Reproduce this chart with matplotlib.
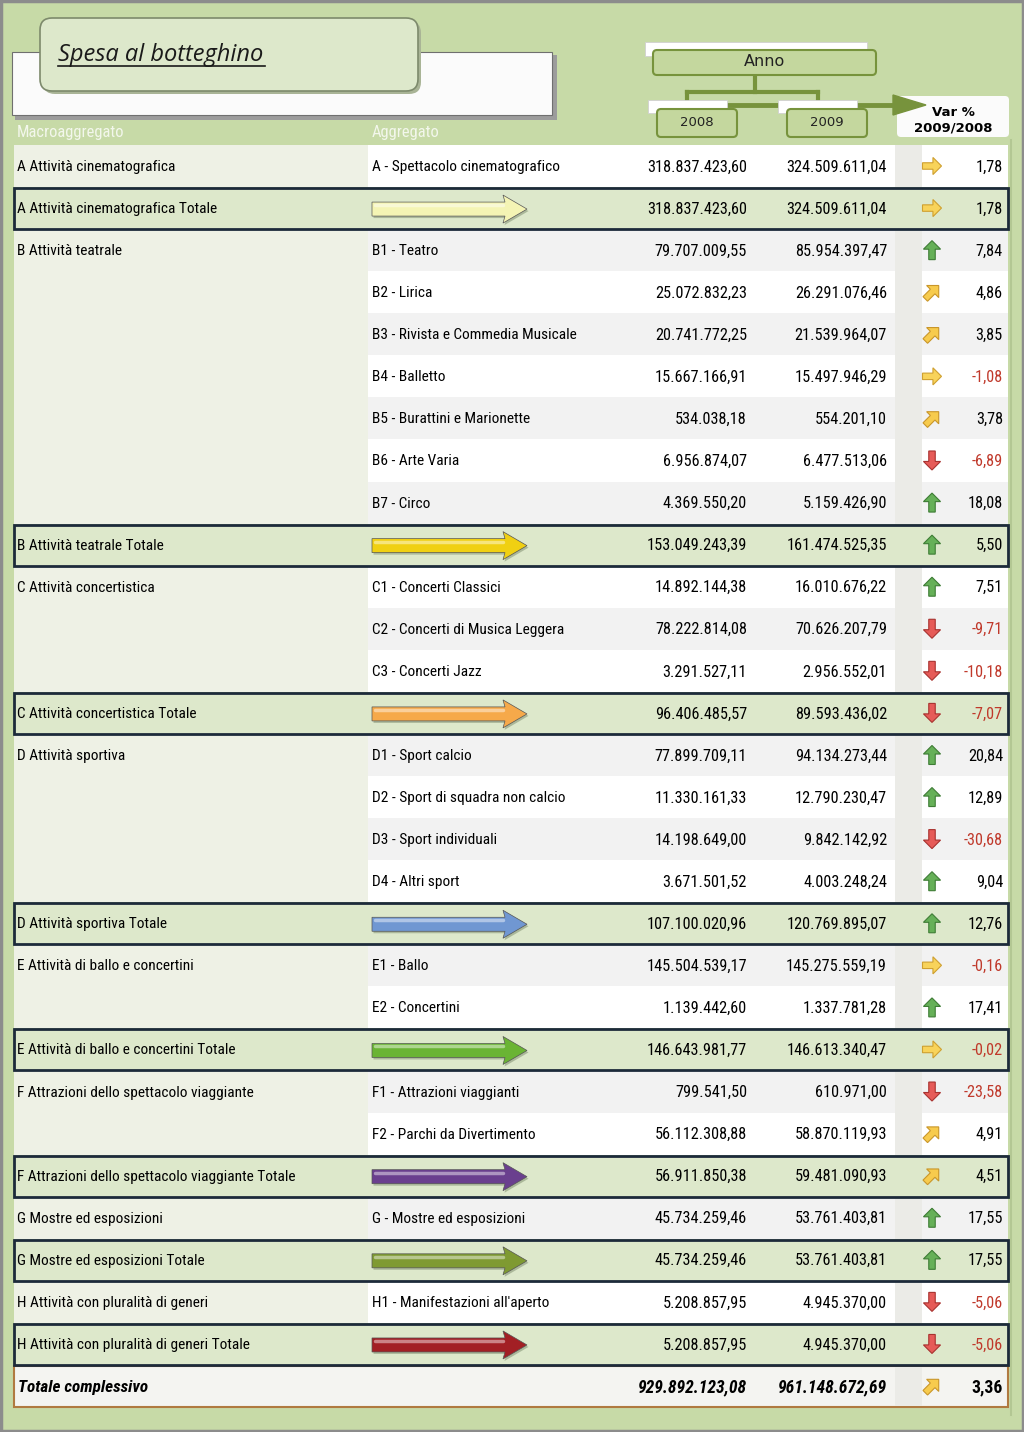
import matplotlib.pyplot as plt
from matplotlib import font_manager as fm
from matplotlib.patches import Rectangle, FancyBboxPatch, Polygon
import numpy as np

# ---- data ----
macro = ["A Attività cinematografica", "A Attività cinematografica Totale",
         "B Attività teatrale", "", "", "", "", "", "", "B Attività teatrale Totale",
         "C Attività concertistica", "", "", "C Attività concertistica Totale",
         "D Attività sportiva", "", "", "", "D Attività sportiva Totale",
         "E Attività di ballo e concertini", "", "E Attività di ballo e concertini Totale",
         "F Attrazioni dello spettacolo viaggiante", "",
         "F Attrazioni dello spettacolo viaggiante Totale",
         "G Mostre ed esposizioni", "G Mostre ed esposizioni Totale",
         "H Attività con pluralità di generi", "H Attività con pluralità di generi Totale",
         "Totale complessivo"]
aggregato = ["A - Spettacolo cinematografico", None,
             "B1 - Teatro", "B2 - Lirica", "B3 - Rivista e Commedia Musicale", "B4 - Balletto",
             "B5 - Burattini e Marionette", "B6 - Arte Varia", "B7 - Circo", None,
             "C1 - Concerti Classici", "C2 - Concerti di Musica Leggera", "C3 - Concerti Jazz", None,
             "D1 - Sport calcio", "D2 - Sport di squadra non calcio", "D3 - Sport individuali",
             "D4 - Altri sport", None,
             "E1 - Ballo", "E2 - Concertini", None,
             "F1 - Attrazioni viaggianti", "F2 - Parchi da Divertimento", None,
             "G - Mostre ed esposizioni", None,
             "H1 - Manifestazioni all'aperto", None,
             ""]
spesa_2008 = [318837423.60, 318837423.60,
              79707009.55, 25072832.23, 20741772.25, 15667166.91, 534038.18, 6956874.07,
              4369550.20, 153049243.39,
              14892144.38, 78222814.08, 3291527.11, 96406485.57,
              77899709.11, 11330161.33, 14198649.00, 3671501.52, 107100020.96,
              145504539.17, 1139442.60, 146643981.77,
              799541.50, 56112308.88, 56911850.38,
              45734259.46, 45734259.46,
              5208857.95, 5208857.95,
              929892123.08]
spesa_2009 = [324509611.04, 324509611.04,
              85954397.47, 26291076.46, 21539964.07, 15497946.29, 554201.10, 6477513.06,
              5159426.90, 161474525.35,
              16010676.22, 70626207.79, 2956552.01, 89593436.02,
              94134273.44, 12790230.47, 9842142.92, 4003248.24, 120769895.07,
              145275559.19, 1337781.28, 146613340.47,
              610971.00, 58870119.93, 59481090.93,
              53761403.81, 53761403.81,
              4945370.00, 4945370.00,
              961148672.69]
var_pct = [1.78, 1.78,
           7.84, 4.86, 3.85, -1.08, 3.78, -6.89, 18.08, 5.50,
           7.51, -9.71, -10.18, -7.07,
           20.84, 12.89, -30.68, 9.04, 12.76,
           -0.16, 17.41, -0.02,
           -23.58, 4.91, 4.51,
           17.55, 17.55,
           -5.06, -5.06,
           3.36]
total_arrow_colors = ["#f4f4b4", "#f0d012", "#f6a94a", "#7097d2",
                      "#6ab434", "#6a3f8e", "#7f9a32", "#a21f24"]

# ---- pick a narrow font (Arial Narrow look) ----
entries = fm.fontManager.ttflist
names = {f.name for f in entries}
if "Liberation Sans Narrow" in names:
    FONT, STRETCH, FS, FN = ["Liberation Sans Narrow", "DejaVu Sans"], "normal", 10.5, 10.5
elif "Roboto Condensed" in names:
    FONT, STRETCH, FS, FN = ["Roboto Condensed", "DejaVu Sans"], "normal", 11.1, 11.7
elif any(f.name == "DejaVu Sans" and f.stretch == "condensed" for f in entries):
    FONT, STRETCH, FS, FN = ["DejaVu Sans"], "condensed", 9.8, 9.8
else:
    FONT, STRETCH, FS, FN = ["Liberation Sans", "DejaVu Sans"], "normal", 9.4, 9.4

# ---- figure ----
fig = plt.figure(figsize=(10.24, 14.32), dpi=100)
ax = fig.add_axes([0, 0, 1, 1])
ax.set_xlim(0, 1024)
ax.set_ylim(1432, 0)
ax.axis("off")
fig.patch.set_facecolor("#c7daa7")


def txt(x, y, s, **kw):
    kw.setdefault("fontsize", FS)
    kw.setdefault("va", "center")
    ax.text(x, y, s, family=FONT, stretch=STRETCH, **kw)


# outer frame
ax.add_patch(Rectangle((1, 1), 1022, 1430, fill=False, ec="#8c8c8c", lw=2.5, zorder=1))
ax.plot([1011, 1011], [140, 1415], color="#b3c793", lw=1.5, zorder=1)

# header panel + title
ax.add_patch(Rectangle((15, 55), 542, 65, fc="#9c9c9c", ec="none", zorder=1))
ax.add_patch(Rectangle((12, 52), 540, 63, fc="#fbfbfb", ec="#6f6f6f", lw=0.8, zorder=2))
ax.add_patch(FancyBboxPatch((43, 21), 378, 73, boxstyle="round,pad=0,rounding_size=12",
                            fc="#a9b496", ec="none", zorder=3))
ax.add_patch(FancyBboxPatch((40, 18), 378, 73, boxstyle="round,pad=0,rounding_size=12",
                            fc="#dde8cb", ec="#7d8a6c", lw=1.2, zorder=4))
ax.text(58, 55, "Spesa al botteghino", fontsize=17, style="italic", family="Open Sans",
        color="#1a1a1a", va="center", ha="left", zorder=5)
ax.plot([58, 265], [66, 66], color="#1a1a1a", lw=1.2, zorder=5)

txt(17, 133, "Macroaggregato", fontsize=FS + 0.8, color="#f3f7ec")
txt(372, 133, "Aggregato", fontsize=FS + 0.8, color="#f3f7ec")

# "Anno" tree
green_fc, green_ec = "#c4d79e", "#77933c"
ax.add_patch(Rectangle((645, 42), 222, 14, fc="white", ec="#d0d0d0", lw=0.6, zorder=2))
ax.add_patch(FancyBboxPatch((653, 50), 223, 25, boxstyle="round,pad=0,rounding_size=4",
                            fc=green_fc, ec=green_ec, lw=1.5, zorder=3))
ax.text(764, 62, "Anno", fontsize=11.5, family="DejaVu Sans", color="#222222",
        ha="center", va="center", zorder=4)
ax.plot([755, 755], [75, 92], color=green_ec, lw=3, zorder=2)
ax.plot([687, 818], [92, 92], color=green_ec, lw=3, zorder=2)
ax.plot([687, 687], [92, 102], color=green_ec, lw=3, zorder=2)
ax.plot([818, 818], [92, 102], color=green_ec, lw=3, zorder=2)
ax.plot([727, 898], [105, 105], color=green_ec, lw=3.5, zorder=2)
for bx, lab in [(657, "2008"), (787, "2009")]:
    ax.add_patch(Rectangle((bx - 9, 100), 79, 13, fc="white", ec="#d0d0d0", lw=0.6, zorder=2.5))
    ax.add_patch(FancyBboxPatch((bx, 109), 80, 28, boxstyle="round,pad=0,rounding_size=4",
                                fc=green_fc, ec=green_ec, lw=1.5, zorder=3))
    ax.text(bx + 40, 123, lab, fontsize=9.5, family="DejaVu Sans", color="#222222",
            ha="center", va="center", zorder=4)
ax.add_patch(FancyBboxPatch((897, 96), 112, 41, boxstyle="round,pad=0,rounding_size=4",
                            fc="#fbfbfb", ec="none", zorder=3))
ax.add_patch(Polygon([(893, 95), (926, 105), (893, 115)], closed=True,
                     fc=green_ec, ec=green_ec, zorder=4))
ax.text(953, 112, "Var %", fontsize=9.5, weight="bold", family="DejaVu Sans",
        ha="center", va="center", zorder=5)
ax.text(953, 128, "2009/2008", fontsize=9.5, weight="bold", family="DejaVu Sans",
        ha="center", va="center", zorder=5)


# ---- helpers ----
def fmt(v):
    s = f"{v:,.2f}"
    return s.replace(",", "X").replace(".", ",").replace("X", ".")


def icon(cx, cy, v):
    # block arrow, direction from variation
    if v >= 5:
        ang, fc, ec = 90, "#66b058", "#3e7c35"
    elif v >= 2:
        ang, fc, ec = 45, "#f7cb4d", "#c9962a"
    elif v > -5:
        ang, fc, ec = 0, "#f8d35a", "#cfa030"
    else:
        ang, fc, ec = -90, "#e65b58", "#a8322f"
    base = np.array([(-0.5, -0.17), (0.05, -0.17), (0.05, -0.45), (0.5, 0.0),
                     (0.05, 0.45), (0.05, 0.17), (-0.5, 0.17)])
    t = np.deg2rad(ang)
    rot = np.array([[np.cos(t), -np.sin(t)], [np.sin(t), np.cos(t)]])
    pts = base @ rot.T * 19
    pts[:, 1] = -pts[:, 1]
    ax.add_patch(Polygon(pts + [cx, cy], closed=True, fc=fc, ec=ec, lw=0.8, zorder=6))


def big_arrow(y, color):
    pts = [(372, y - 7), (505, y - 7), (503, y - 14), (527, y), (503, y + 14),
           (505, y + 7), (372, y + 7)]
    ax.add_patch(Polygon([(p[0] + 1.5, p[1] + 2) for p in pts], closed=True,
                         fc="#7a8a6a", ec="none", alpha=0.5, zorder=5))
    ax.add_patch(Polygon(pts, closed=True, fc=color, ec="#555555", lw=0.5, zorder=6))
    ax.plot([375, 503], [y - 4, y - 4], color="white", alpha=0.45, lw=2.5,
            solid_capstyle="round", zorder=7)


# ---- table ----
y0, step = 166, 42.07
h = step
detail_k = 0
tot_k = 0
for i in range(len(macro)):
    yc = y0 + i * step
    agg = aggregato[i]
    grand = i == len(macro) - 1
    neg = var_pct[i] < 0
    if grand:
        ax.add_patch(Rectangle((14, yc - 20), 994, 41, fc="#f4f4f1", ec="#b07a40", lw=1.5, zorder=2))
        ax.add_patch(Rectangle((895, yc - 19), 27, 39, fc="#ebebe7", ec="none", zorder=2.1))
        txt(18, yc + 1, macro[i], fontsize=FS + 1.2, weight="bold", style="italic", zorder=8)
        kw = dict(fontsize=FN + 1, weight="bold", style="italic")
        kwv = dict(fontsize=FN + 1, weight="bold")
    elif agg is None:
        ax.add_patch(Rectangle((14, yc - 20), 994, 41, fc="#dde8cb", ec="#1c2a3a", lw=2, zorder=3))
        txt(17, yc + 1, macro[i], zorder=8)
        big_arrow(yc + 1, total_arrow_colors[tot_k])
        tot_k += 1
        kw = kwv = dict(fontsize=FN)
    else:
        fill = "#f2f2f2" if detail_k % 2 else "white"
        ax.add_patch(Rectangle((14, yc - h / 2), 354, h, fc="#eef1e5", ec="none", zorder=1.5))
        ax.add_patch(Rectangle((368, yc - h / 2), 640, h, fc=fill, ec="none", zorder=1.5))
        ax.add_patch(Rectangle((895, yc - h / 2), 27, h, fc="#ebebe7", ec="none", zorder=1.6))
        txt(17, yc + 1, macro[i], zorder=8)
        txt(372, yc + 1, agg, zorder=8)
        detail_k += 1
        kw = kwv = dict(fontsize=FN)
    txt(747, yc + 1, fmt(spesa_2008[i]), ha="right", zorder=8, **kw)
    txt(887, yc + 1, fmt(spesa_2009[i]), ha="right", zorder=8, **kw)
    txt(1003, yc + 1, fmt(var_pct[i]), ha="right", zorder=8,
        color="#c0392b" if neg else "black", **kwv)
    icon(932, yc, var_pct[i])

fig.savefig("out.png", dpi=100, facecolor=fig.get_facecolor())
